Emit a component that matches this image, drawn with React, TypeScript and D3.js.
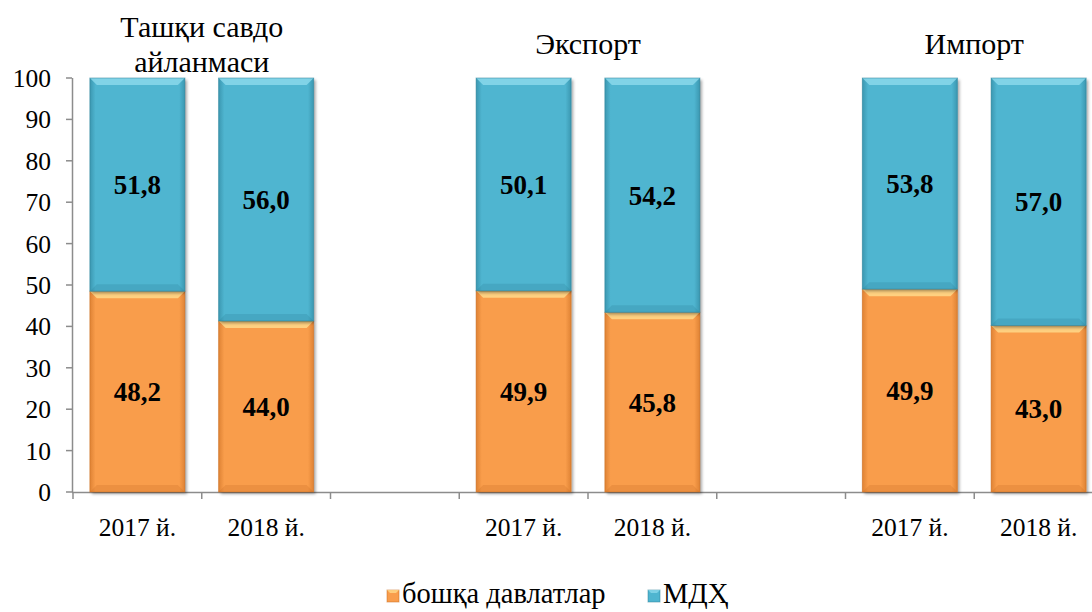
import React from "react";
import * as d3 from "d3";

// ---- data ----
const groupTitleLines: string[][] = [["Ташқи савдо", "айланмаси"], ["Экспорт"], ["Импорт"]];
const slots = ["g0-2017", "g0-2018", "gap0", "g1-2017", "g1-2018", "gap1", "g2-2017", "g2-2018"];
const slotLabels = ["2017 й.", "2018 й.", "", "2017 й.", "2018 й.", "", "2017 й.", "2018 й."];
const barSlots = [0, 1, 3, 4, 6, 7];
// share of "other countries" as drawn in the picture (bar boundary)
const otherShare = [48.5, 41.3, 48.6, 43.4, 49.0, 40.2];
const otherLabels = ["48,2", "44,0", "49,9", "45,8", "49,9", "43,0"];
const mdhLabels = ["51,8", "56,0", "50,1", "54,2", "53,8", "57,0"];
const totalShare = 100;
const seriesNames = ["бошқа давлатлар", "МДҲ"];
const yTicks = [0, 10, 20, 30, 40, 50, 60, 70, 80, 90, 100];

const W = 1092;
const H = 612;
const FONT = "Liberation Serif";
const ORANGE = { base: "#F99D4C", light: "#FFD98A", dark: "#C96D22" };
const BLUE = { base: "#4FB5D0", light: "#8AD8EB", dark: "#2B7F97" };

function Segment({ x, y, w, h, c, id }: { x: number; y: number; w: number; h: number; c: typeof ORANGE; id: string }) {
  const b = 7;
  return (
    <g>
      <rect x={x} y={y} width={w} height={h} fill={c.base} filter="url(#shadow)" />
      <rect x={x} y={y} width={w} height={h} fill={`url(#edge-${id})`} />
      <polygon points={`${x},${y} ${x + w},${y} ${x + w - b},${y + b} ${x + b},${y + b}`} fill={c.light} opacity={0.85} />
      <polygon points={`${x},${y + h} ${x + w},${y + h} ${x + w - b},${y + h - b} ${x + b},${y + h - b}`} fill={c.dark} opacity={0.25} />
      <rect x={x} y={y} width={w} height={h} fill="none" stroke={c.dark} strokeOpacity={0.5} strokeWidth={1} />
    </g>
  );
}

export default function App() {
  const x = d3.scaleBand<string>().domain(slots).range([73, 1103]).paddingInner(0.262).paddingOuter(0.131);
  const y = d3.scaleLinear().domain([0, 100]).range([492, 78]);
  const bw = x.bandwidth();
  const step = x.step();
  const axisColor = "#8C8C8C";

  return (
    <div style={{ position: "absolute", left: 0, top: 0 }}>
      <svg width={W} height={H} style={{ display: "block" }} fontFamily={FONT}>
        <defs>
          <filter id="shadow" x="-10%" y="-10%" width="130%" height="130%">
            <feDropShadow dx="2" dy="2" stdDeviation="1.8" floodColor="#000" floodOpacity="0.35" />
          </filter>
          {[["o", ORANGE], ["b", BLUE]].map(([id, c]: any) => (
            <linearGradient key={id} id={`edge-${id}`} x1="0" x2="1" y1="0" y2="0">
              <stop offset="0" stopColor={c.dark} stopOpacity={0.55} />
              <stop offset="0.06" stopColor={c.dark} stopOpacity={0} />
              <stop offset="0.94" stopColor={c.dark} stopOpacity={0} />
              <stop offset="1" stopColor={c.dark} stopOpacity={0.55} />
            </linearGradient>
          ))}
        </defs>

        {/* axes */}
        <line x1={72.5} x2={72.5} y1={78} y2={492} stroke={axisColor} strokeWidth={1.5} />
        {yTicks.map((t) => (
          <g key={t}>
            <line x1={66} x2={72} y1={y(t)} y2={y(t)} stroke={axisColor} strokeWidth={1.5} />
            <text x={51} y={y(t)} dy="0.35em" textAnchor="end" fontSize={25.5} fontFamily={FONT} fill="#000">
              {t}
            </text>
          </g>
        ))}
        <line x1={72} x2={W} y1={492.5} y2={492.5} stroke={axisColor} strokeWidth={1.5} />
        {slots.map((s, i) => (
          <line key={s} x1={73 + i * step} x2={73 + i * step} y1={492} y2={499} stroke={axisColor} strokeWidth={1.5} />
        ))}
        <line x1={73 + slots.length * step} x2={73 + slots.length * step} y1={492} y2={499} stroke={axisColor} strokeWidth={1.5} />
        {slots.map((s, i) =>
          slotLabels[i] ? (
            <text key={s} x={(x(s) as number) + bw / 2} y={527} dy="0.35em" textAnchor="middle" fontSize={25.5} fontFamily={FONT} fill="#000">
              {slotLabels[i]}
            </text>
          ) : null
        )}

        {/* bars */}
        {barSlots.map((si, i) => {
          const s = slots[si];
          const x0 = x(s) as number;
          const yO = y(otherShare[i]);
          const yT = y(totalShare);
          const y0 = y(0);
          return (
            <g key={s}>
              <Segment x={x0} y={yO} w={bw} h={y0 - yO} c={ORANGE} id="o" />
              <Segment x={x0} y={yT} w={bw} h={yO - yT} c={BLUE} id="b" />
              <text x={x0 + bw / 2} y={(yO + y0) / 2} dy="0.35em" textAnchor="middle" fontSize={27} fontWeight="bold" fontFamily={FONT} fill="#000">
                {otherLabels[i]}
              </text>
              <text x={x0 + bw / 2} y={(yO + yT) / 2} dy="0.35em" textAnchor="middle" fontSize={27} fontWeight="bold" fontFamily={FONT} fill="#000">
                {mdhLabels[i]}
              </text>
            </g>
          );
        })}

        {/* group titles */}
        {groupTitleLines.map((lines, g) => {
          const a = x(slots[g * 3]) as number;
          const b = (x(slots[g * 3 + 1]) as number) + bw;
          const cx = (a + b) / 2;
          return lines.map((ln, k) => (
            <text key={`${g}-${k}`} x={cx} y={54 + (k - (lines.length - 1) / 2) * 35} textAnchor="middle" fontSize={30} fontFamily={FONT} fill="#000">
              {ln}
            </text>
          ));
        })}

        {/* legend */}
        {[ORANGE, BLUE].map((c, i) => {
          const lx = i === 0 ? 387 : 648;
          return (
            <g key={i}>
              <rect x={lx} y={590} width={12} height={12} fill={c.base} stroke={c.dark} strokeOpacity={0.5} />
              <polygon points={`${lx},${590} ${lx + 12},${590} ${lx + 9},${593} ${lx + 3},${593}`} fill={c.light} opacity={0.8} />
              <text x={lx + 15} y={603} fontSize={28.5} fontFamily={FONT} fill="#000">
                {seriesNames[i]}
              </text>
            </g>
          );
        })}
      </svg>
    </div>
  );
}
